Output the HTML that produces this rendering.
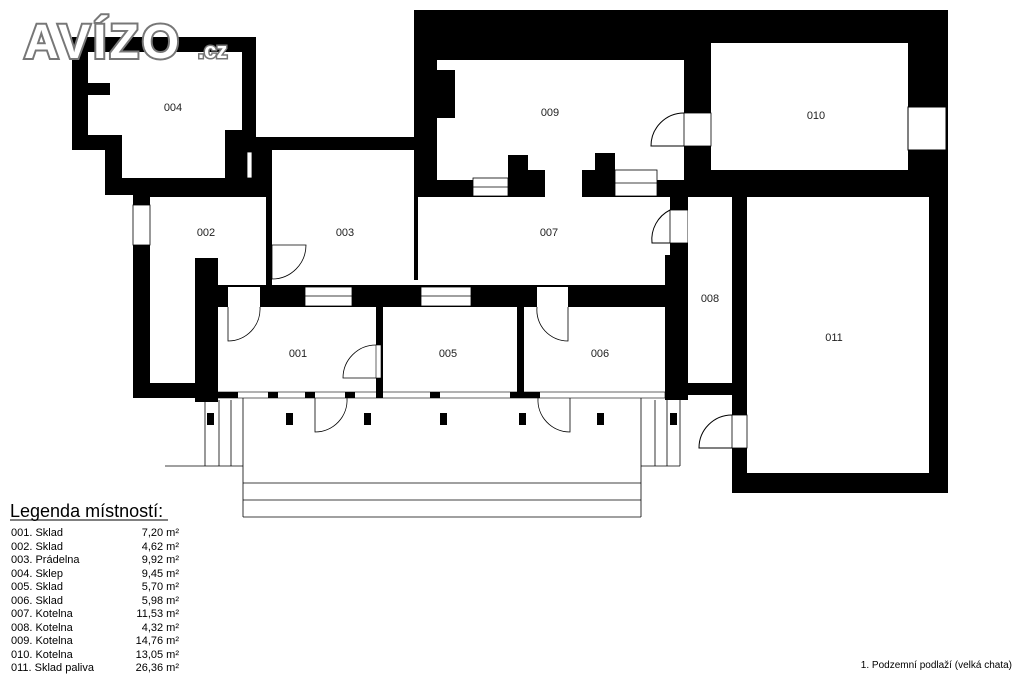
<!DOCTYPE html>
<html><head><meta charset="utf-8"><style>
html,body{margin:0;padding:0;background:#fff;}
svg{display:block;font-family:"Liberation Sans",Arial,sans-serif;}
</style></head><body>
<svg width="1024" height="683" viewBox="0 0 1024 683" xmlns="http://www.w3.org/2000/svg">
<rect width="1024" height="683" fill="#fff"/>
<rect x="414" y="10" width="534" height="187" fill="#000"/>
<rect x="665" y="190" width="83" height="210" fill="#000"/>
<rect x="732" y="185" width="216" height="308" fill="#000"/>
<rect x="437" y="60" width="247" height="120" fill="#fff"/>
<rect x="437" y="70" width="18" height="48" fill="#000"/>
<rect x="414" y="120" width="23" height="160" fill="#000"/>
<rect x="711" y="43" width="197" height="127" fill="#fff"/>
<rect x="908" y="107" width="38" height="43" fill="#fff" stroke="#000" stroke-width="1"/>
<rect x="684" y="113" width="27" height="33" fill="#fff" stroke="#000" stroke-width="0.8"/>
<path d="M684 113 A33 33 0 0 0 651 146 L684 146" fill="none" stroke="#000" stroke-width="1"/>
<rect x="455" y="180" width="230" height="17" fill="#000"/>
<rect x="473" y="178" width="35" height="18" fill="#fff" stroke="#000" stroke-width="0.8"/>
<line x1="473" y1="187" x2="508" y2="187" stroke="#000" stroke-width="0.8"/>
<rect x="508" y="155" width="20" height="42" fill="#000"/>
<rect x="528" y="170" width="17" height="17" fill="#000"/>
<rect x="545" y="178" width="37" height="20" fill="#fff"/>
<rect x="595" y="153" width="20" height="44" fill="#000"/>
<rect x="582" y="170" width="13" height="17" fill="#000"/>
<rect x="615" y="170" width="42" height="26" fill="#fff" stroke="#000" stroke-width="0.8"/>
<line x1="615" y1="183" x2="657" y2="183" stroke="#000" stroke-width="0.8"/>
<rect x="418" y="197" width="252" height="88" fill="#fff"/>
<rect x="665" y="255" width="5" height="30" fill="#000"/>
<rect x="670" y="210" width="18" height="33" fill="#fff" stroke="#000" stroke-width="0.8"/>
<path d="M670 210 A33 33 0 0 0 652 243 L670 243" fill="none" stroke="#000" stroke-width="1"/>
<rect x="688" y="197" width="44" height="186" fill="#fff"/>
<rect x="747" y="197" width="182" height="276" fill="#fff"/>
<rect x="686" y="395" width="46" height="98" fill="#fff"/>
<rect x="732" y="415" width="15" height="33" fill="#fff" stroke="#000" stroke-width="0.8"/>
<path d="M732 415 A33 33 0 0 0 699 448 L732 448" fill="none" stroke="#000" stroke-width="1"/>
<polygon points="72,37 256,37 256,137 414,137 414,150 272,150 272,195 105,195 105,150 72,150" fill="#000"/>
<polygon points="88,52 242,52 242,130 225,130 225,178 122,178 122,135 88,135" fill="#fff"/>
<rect x="88" y="83" width="22" height="12" fill="#000"/>
<rect x="247" y="152" width="5" height="26" fill="#fff" stroke="#000" stroke-width="0.8"/>
<path d="M252 152 A22 22 0 0 1 274 174 L252 174" fill="none" stroke="#000" stroke-width="0.8"/>
<rect x="272" y="150" width="142" height="135" fill="#fff"/>
<rect x="266" y="195" width="6" height="95" fill="#000"/>
<path d="M306 245 A34 34 0 0 1 272 279 L272 245 Z" fill="none" stroke="#000" stroke-width="0.8"/>
<rect x="133" y="195" width="133" height="203" fill="#000"/>
<rect x="150" y="197" width="116" height="88" fill="#fff"/>
<rect x="150" y="285" width="45" height="98" fill="#fff"/>
<rect x="133" y="205" width="17" height="40" fill="#fff" stroke="#000" stroke-width="0.8"/>
<rect x="218" y="285" width="48" height="5" fill="#fff"/>
<rect x="195" y="285" width="490" height="22" fill="#000"/>
<rect x="195" y="258" width="23" height="140" fill="#000"/>
<rect x="305" y="287" width="47" height="19" fill="#fff" stroke="#000" stroke-width="0.8"/>
<line x1="305" y1="296" x2="352" y2="296" stroke="#000" stroke-width="0.8"/>
<rect x="421" y="287" width="50" height="19" fill="#fff" stroke="#000" stroke-width="0.8"/>
<line x1="421" y1="296" x2="471" y2="296" stroke="#000" stroke-width="0.8"/>
<rect x="228" y="287" width="32" height="20" fill="#fff"/>
<rect x="537" y="287" width="31" height="20" fill="#fff"/>
<rect x="218" y="307" width="158" height="85" fill="#fff"/>
<rect x="383" y="307" width="134" height="85" fill="#fff"/>
<rect x="524" y="307" width="141" height="85" fill="#fff"/>
<rect x="376" y="307" width="7" height="91" fill="#000"/>
<rect x="517" y="307" width="7" height="85" fill="#000"/>
<rect x="376" y="345" width="5" height="33" fill="#fff" stroke="#000" stroke-width="0.6"/>
<path d="M376 345 A33 33 0 0 0 343 378 L376 378" fill="none" stroke="#000" stroke-width="0.8"/>
<path d="M228 307 L228 341 A32 32 0 0 0 260 307" fill="none" stroke="#000" stroke-width="0.8"/>
<path d="M568 307 L568 341 A31 31 0 0 1 537 307" fill="none" stroke="#000" stroke-width="0.8"/>
<rect x="218" y="392" width="447" height="6" fill="#fff" stroke="#000" stroke-width="0.6"/>
<rect x="218" y="392" width="20" height="6" fill="#000"/>
<rect x="268" y="392" width="10" height="6" fill="#000"/>
<rect x="305" y="392" width="10" height="6" fill="#000"/>
<rect x="345" y="392" width="10" height="6" fill="#000"/>
<rect x="376" y="392" width="7" height="6" fill="#000"/>
<rect x="430" y="392" width="10" height="6" fill="#000"/>
<rect x="510" y="392" width="30" height="6" fill="#000"/>
<rect x="665" y="383" width="23" height="17" fill="#000"/>
<rect x="688" y="383" width="44" height="12" fill="#000"/>
<rect x="195" y="392" width="23" height="10" fill="#000"/>
<path d="M315 398 L315 432 A32 32 0 0 0 347 398" fill="none" stroke="#000" stroke-width="0.8"/>
<path d="M570 398 L570 432 A32 32 0 0 1 538 398" fill="none" stroke="#000" stroke-width="0.8"/>
<g fill="#000">
<rect x="207" y="413" width="7" height="12"/><rect x="286" y="413" width="7" height="12"/>
<rect x="364" y="413" width="7" height="12"/><rect x="440" y="413" width="7" height="12"/>
<rect x="519" y="413" width="7" height="12"/><rect x="597" y="413" width="7" height="12"/>
<rect x="670" y="413" width="7" height="12"/>
</g>
<g fill="none" stroke="#000" stroke-width="0.8">
<line x1="205" y1="400" x2="205" y2="466"/><line x1="219" y1="400" x2="219" y2="466"/>
<line x1="231" y1="400" x2="231" y2="466"/><line x1="243" y1="398" x2="243" y2="517"/>
<line x1="165" y1="466" x2="243" y2="466"/>
<line x1="641" y1="398" x2="641" y2="517"/><line x1="655" y1="400" x2="655" y2="466"/>
<line x1="667" y1="400" x2="667" y2="466"/><line x1="680" y1="400" x2="680" y2="466"/>
<line x1="641" y1="466" x2="680" y2="466"/>
<line x1="243" y1="483" x2="641" y2="483"/><line x1="243" y1="500" x2="641" y2="500"/>
<line x1="243" y1="517" x2="641" y2="517"/>
</g>
<g font-size="11" fill="#222" text-anchor="middle">
<text x="173" y="111">004</text><text x="206" y="236">002</text><text x="345" y="236">003</text>
<text x="550" y="116">009</text><text x="816" y="119">010</text><text x="549" y="236">007</text>
<text x="710" y="302">008</text><text x="834" y="341">011</text>
<text x="298" y="357">001</text><text x="448" y="357">005</text><text x="600" y="357">006</text>
</g>
<text x="24" y="58" font-size="48" font-weight="bold" fill="#fff" stroke="#777" stroke-width="4" letter-spacing="3">AVÍZO</text>
<text x="24" y="58" font-size="48" font-weight="bold" fill="#fff" letter-spacing="3">AVÍZO</text>
<text x="198" y="58" font-size="22" font-weight="bold" fill="#fff" stroke="#777" stroke-width="3">.cz</text>
<text x="198" y="58" font-size="22" font-weight="bold" fill="#fff">.cz</text>
<text x="10" y="517" font-size="18" fill="#000">Legenda místností:</text>
<line x1="10" y1="520" x2="168" y2="520" stroke="#000" stroke-width="1"/>
<g font-size="11" fill="#000">
<text x="11" y="536">001. Sklad</text><text x="11" y="550">002. Sklad</text><text x="11" y="563">003. Prádelna</text>
<text x="11" y="577">004. Sklep</text><text x="11" y="590">005. Sklad</text><text x="11" y="604">006. Sklad</text>
<text x="11" y="617">007. Kotelna</text><text x="11" y="631">008. Kotelna</text><text x="11" y="644">009. Kotelna</text>
<text x="11" y="658">010. Kotelna</text><text x="11" y="671">011. Sklad paliva</text>
</g>
<g font-size="11" fill="#000" text-anchor="end">
<text x="179" y="536">7,20 m²</text><text x="179" y="550">4,62 m²</text><text x="179" y="563">9,92 m²</text>
<text x="179" y="577">9,45 m²</text><text x="179" y="590">5,70 m²</text><text x="179" y="604">5,98 m²</text>
<text x="179" y="617">11,53 m²</text><text x="179" y="631">4,32 m²</text><text x="179" y="644">14,76 m²</text>
<text x="179" y="658">13,05 m²</text><text x="179" y="671">26,36 m²</text>
</g>
<text x="1012" y="668" font-size="10" fill="#000" text-anchor="end">1. Podzemní podlaží (velká chata)</text>
</svg>
</body></html>
